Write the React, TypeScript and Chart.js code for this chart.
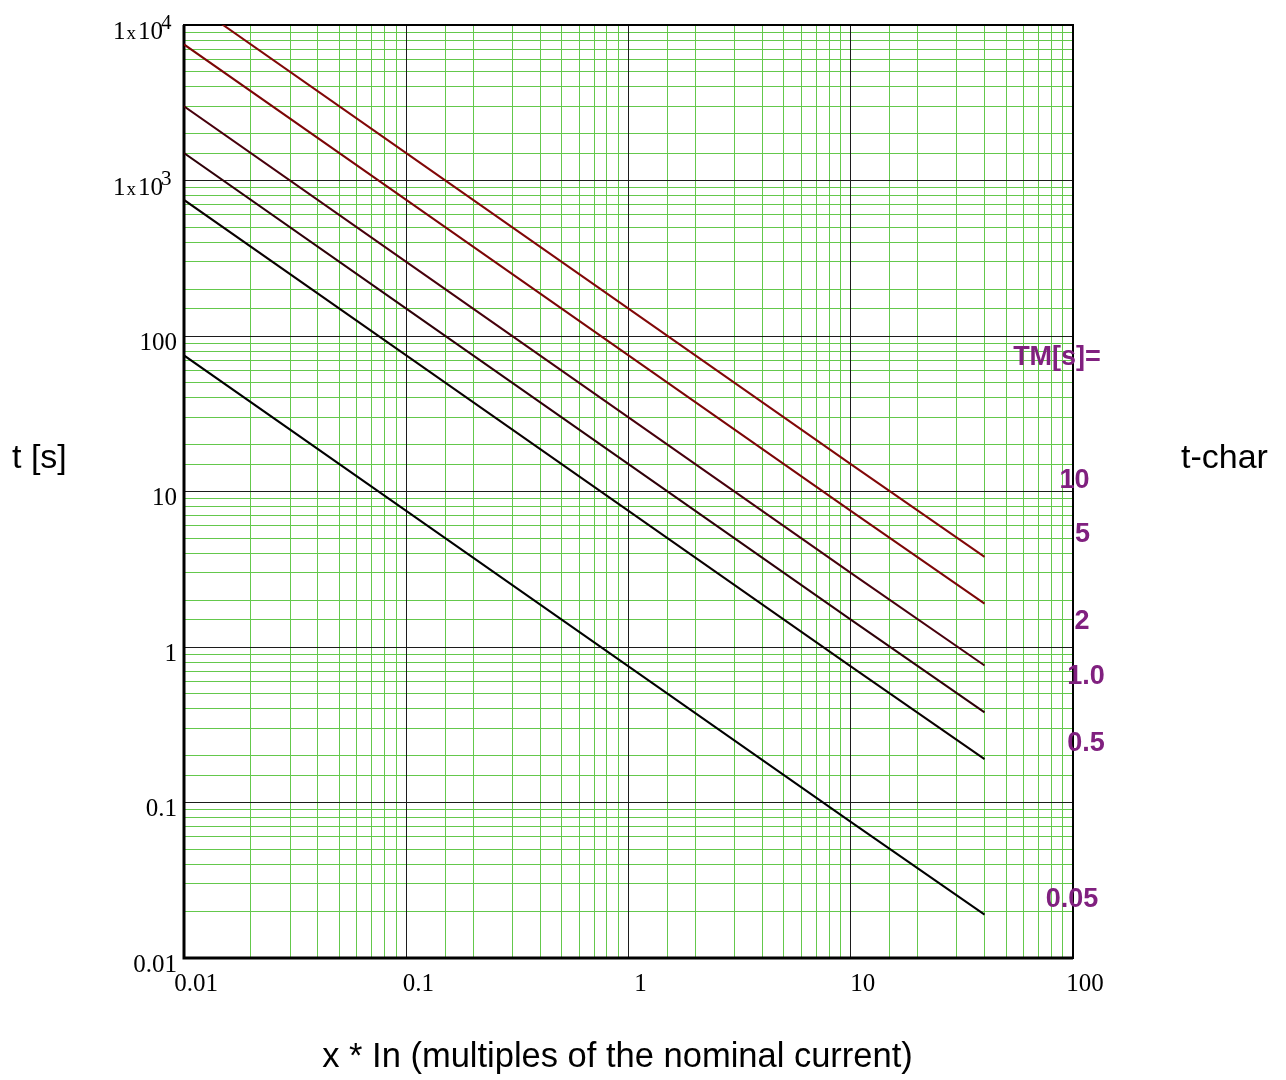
import React, { useEffect, useRef } from 'react';
import { Chart, registerables } from 'chart.js';

Chart.register(...registerables);

// ---- data ----
const currentMultiples = [0.01, 0.1, 1, 10, 40];
const tm005 = [75, 7.5, 0.75, 0.075, 0.019];
const tm05 = [750, 75, 7.5, 0.75, 0.19];
const tm1 = [1500, 150, 15, 1.5, 0.38];
const tm2 = [3000, 300, 30, 3, 0.76];
const tm5 = [7500, 750, 75, 7.5, 1.9];
const tm10 = [15000, 1500, 150, 15, 3.8];

const seriesNames = ['TM=0.05', 'TM=0.5', 'TM=1.0', 'TM=2', 'TM=5', 'TM=10'];
const seriesValues = [tm005, tm05, tm1, tm2, tm5, tm10];
const seriesColors = ['#000000', '#0a0000', '#2e0008', '#48000c', '#7c0606', '#820808'];

const xTickValues = [0.01, 0.1, 1, 10, 100];
const xTickLabels = ['0.01', '0.1', '1', '10', '100'];
const yTickValues = [0.01, 0.1, 1, 10, 100];
const yTickLabels = ['0.01', '0.1', '1', '10', '100'];
const yPowerValues = [1000, 10000];
const yPowerExponents = ['3', '4'];

const tmLabelTexts = ['TM[s]=', '10', '5', '2', '1.0', '0.5', '0.05'];
const tmLabelLevels = [73, 11.7, 5.3, 1.45, 0.65, 0.238, 0.0236];
const tmLabelShift = [-16, 1.5, 9.5, 9, 13, 13, -1];

const xTitle = 'x * In (multiples of the nominal current)';
const yTitle = 't [s]';
const rightTitle = 't-char';

const GREEN = 'rgb(100,200,76)';
const MAJOR = '#1c1c1c';
const PURPLE = '#80207f';
const SERIF = "'Liberation Serif', 'Times New Roman', serif";
const SANS = "'Liberation Sans', Arial, sans-serif";

const findLabel = (v: number, vals: number[], labels: string[]) => {
  for (let i = 0; i < vals.length; i++) {
    if (Math.abs(v - vals[i]) / vals[i] < 1e-6) return labels[i];
  }
  return '';
};

const align1 = (p: number) => Math.round(p - 0.5) + 0.5;

const decorPlugin = {
  id: 'decor',
  beforeDatasetsDraw(chart: any) {
    const { ctx, chartArea: a, scales } = chart;
    const xs = scales.x;
    const ys = scales.y;
    ctx.save();
    ctx.strokeStyle = MAJOR;
    ctx.lineWidth = 1;
    ctx.beginPath();
    xTickValues.forEach((v) => {
      const p = align1(xs.getPixelForValue(v));
      ctx.moveTo(p, a.top);
      ctx.lineTo(p, a.bottom);
    });
    [...yTickValues, ...yPowerValues].forEach((v) => {
      const p = align1(ys.getPixelForValue(v));
      ctx.moveTo(a.left, p);
      ctx.lineTo(a.right, p);
    });
    ctx.stroke();
    ctx.strokeStyle = '#000';
    ctx.lineWidth = 2;
    ctx.strokeRect(a.left, a.top, a.right - a.left, a.bottom - a.top);
    ctx.lineWidth = 3;
    ctx.beginPath();
    ctx.moveTo(a.left, a.top);
    ctx.lineTo(a.left, a.bottom);
    ctx.lineTo(a.right, a.bottom);
    ctx.stroke();
    ctx.restore();
  },
  afterDraw(chart: any) {
    const { ctx, chartArea: a, scales } = chart;
    const ys = scales.y;
    ctx.save();
    // power-of-ten tick labels with superscripts
    ctx.fillStyle = '#000';
    ctx.textBaseline = 'alphabetic';
    ctx.textAlign = 'left';
    yPowerValues.forEach((v, i) => {
      const py = ys.getPixelForValue(v);
      const base = py + 14;
      let x = a.left - 71;
      ctx.font = `25px ${SERIF}`;
      ctx.fillText('1', x, base);
      x += ctx.measureText('1').width;
      ctx.font = `19px ${SERIF}`;
      ctx.fillText('x', x + 1, base);
      x += ctx.measureText('x').width + 3;
      ctx.font = `25px ${SERIF}`;
      ctx.fillText('10', x, base);
      x += ctx.measureText('10').width - 2;
      ctx.font = `21px ${SERIF}`;
      ctx.fillText(yPowerExponents[i], x, base - 10);
    });
    // axis titles
    ctx.font = `34px ${SANS}`;
    ctx.fillStyle = '#000';
    ctx.textAlign = 'left';
    ctx.textBaseline = 'middle';
    ctx.fillText(yTitle, 12, 459);
    ctx.fillText(rightTitle, 1181, 459);
    ctx.font = `34.5px ${SANS}`;
    ctx.textAlign = 'center';
    ctx.textBaseline = 'alphabetic';
    ctx.fillText(xTitle, (a.left + a.right) / 2 - 11, 1067);
    // TM labels
    ctx.font = `bold 27px ${SANS}`;
    ctx.fillStyle = PURPLE;
    ctx.textAlign = 'center';
    ctx.textBaseline = 'middle';
    tmLabelTexts.forEach((t, i) => {
      ctx.fillText(t, a.right + tmLabelShift[i], ys.getPixelForValue(tmLabelLevels[i]));
    });
    ctx.restore();
  },
};

export default function App() {
  const ref = useRef<HTMLCanvasElement | null>(null);
  useEffect(() => {
    if (!ref.current) return;
    const datasets = seriesValues.map((vals, i) => ({
      label: seriesNames[i],
      data: vals.map((y, j) => ({ x: currentMultiples[j], y })),
      borderColor: seriesColors[i],
      backgroundColor: seriesColors[i],
      borderWidth: 2,
      pointRadius: 0,
      tension: 0,
      fill: false,
      clip: 0,
    }));
    const chart = new Chart(ref.current, {
      type: 'line',
      data: { datasets },
      plugins: [decorPlugin],
      options: {
        animation: false,
        responsive: false,
        maintainAspectRatio: false,
        layout: { padding: { left: 114, right: 213, top: 25, bottom: 62 } },
        plugins: { legend: { display: false }, tooltip: { enabled: false }, title: { display: false } },
        scales: {
          x: {
            type: 'logarithmic',
            min: 0.01,
            max: 100,
            afterFit: (s: any) => { s.height = 60; },
            border: { display: true, color: '#000', width: 2 },
            grid: { drawTicks: false, lineWidth: 1, color: GREEN },
            ticks: {
              autoSkip: false,
              maxRotation: 0,
              minRotation: 0,
              padding: 11,
              labelOffset: 12,
              color: '#000',
              font: { family: SERIF, size: 25 },
              callback: (v: any) => findLabel(Number(v), xTickValues, xTickLabels),
            },
          },
          y: {
            type: 'logarithmic',
            min: 0.01,
            max: 10000,
            afterFit: (s: any) => { s.width = 70; },
            border: { display: true, color: '#000', width: 2 },
            grid: { drawTicks: false, lineWidth: 1, color: GREEN },
            ticks: {
              autoSkip: false,
              padding: 7,
              labelOffset: 7,
              color: '#000',
              font: { family: SERIF, size: 25 },
              callback: (v: any) => findLabel(Number(v), yTickValues, yTickLabels),
            },
          },
        },
      } as any,
    });
    return () => chart.destroy();
  }, []);
  return (
    <div style={{ position: 'absolute', left: 0, top: 0, width: 1286, height: 1080, background: '#fff' }}>
      <canvas ref={ref} width={1286} height={1080} style={{ display: 'block' }} />
    </div>
  );
}
